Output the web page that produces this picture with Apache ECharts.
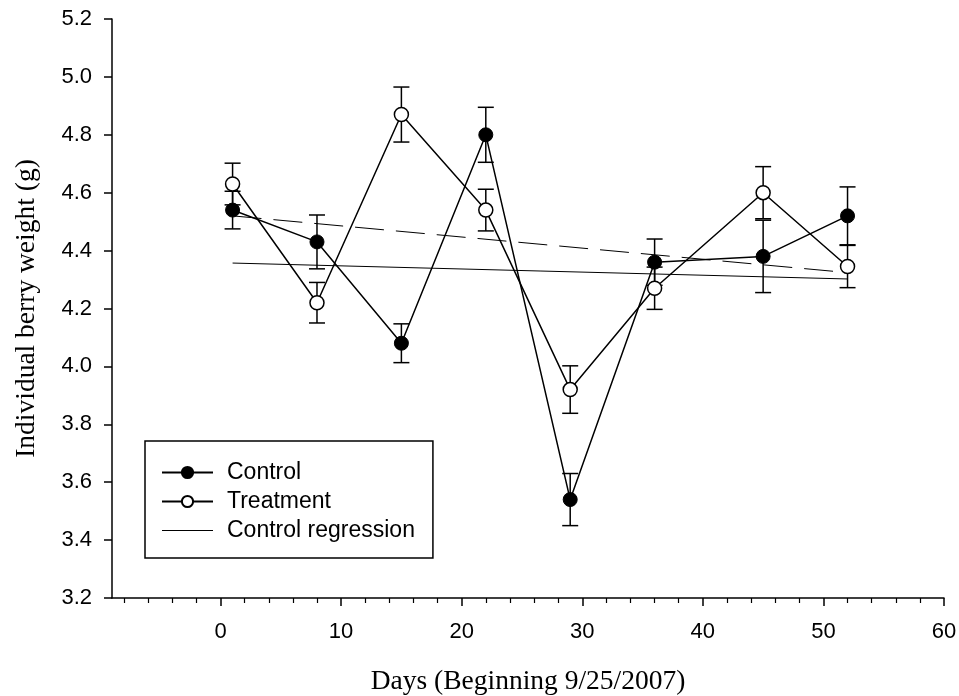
<!DOCTYPE html>
<html>
<head>
<meta charset="utf-8">
<title>Individual berry weight</title>
<script src="https://cdn.jsdelivr.net/npm/echarts@6/dist/echarts.min.js"></script>
<style>
  html, body { margin: 0; padding: 0; background: #fff; }
  #chart { width: 959px; height: 696px; }
</style>
</head>
<body>
<div id="chart"></div>
<script type="text/javascript">
// data
var days = [1, 8, 15, 22, 29, 36, 45, 52];
var controlMean = [4.54, 4.43, 4.08, 4.80, 3.54, 4.36, 4.38, 4.52];
var controlErr = [0.065, 0.093, 0.067, 0.095, 0.09, 0.08, 0.125, 0.10];
var treatMean = [4.63, 4.22, 4.87, 4.54, 3.92, 4.27, 4.60, 4.345];
var treatErr = [0.072, 0.07, 0.095, 0.072, 0.082, 0.073, 0.09, 0.073];

// regression lines (ends)
var regDays = [1, 52];
var controlReg = [4.357, 4.302];
var treatReg = [4.520, 4.324];

// ticks
var xMajorTicks = [0, 10, 20, 30, 40, 50, 60];
var xMinorTicks = [-8, -6, -4, -2, 2, 4, 6, 8, 12, 14, 16, 18, 22, 24, 26, 28,
                   32, 34, 36, 38, 42, 44, 46, 48, 52, 54, 56, 58];

var sans = 'Liberation Sans, Arial, sans-serif';
var serif = 'Liberation Serif, Times New Roman, serif';

function pairs(xs, ys) {
    return xs.map(function (x, i) { return [x, ys[i]]; });
}
function triples(xs, ys, es) {
    return xs.map(function (x, i) { return [x, ys[i], es[i]]; });
}

// error bars with caps
function errorBar(params, api) {
    var x = api.value(0), y = api.value(1), e = api.value(2);
    var top = api.coord([x, y + e]);
    var bot = api.coord([x, y - e]);
    var w = 8;
    var st = { stroke: '#000', lineWidth: 1.5 };
    return {
        type: 'group',
        children: [
            { type: 'line', shape: { x1: top[0], y1: top[1], x2: bot[0], y2: bot[1] }, style: st },
            { type: 'line', shape: { x1: top[0] - w, y1: top[1], x2: top[0] + w, y2: top[1] }, style: st },
            { type: 'line', shape: { x1: bot[0] - w, y1: bot[1], x2: bot[0] + w, y2: bot[1] }, style: st }
        ]
    };
}

var chart = echarts.init(document.getElementById('chart'));

var option = {
    animation: false,
    backgroundColor: '#fff',
    grid: { left: 112, top: 19, right: 15, bottom: 98, outerBoundsMode: 'none', containLabel: false },
    legend: {
        data: [
            'Control',
            'Treatment',
            { name: 'Control regression', icon: 'path://M0,0h51v1h-51z', itemStyle: { color: '#000' } }
        ],
        orient: 'vertical',
        left: 145,
        top: 441,
        itemWidth: 51,
        itemHeight: 14,
        itemGap: 6,
        padding: [20, 18, 16, 16],
        borderColor: '#000',
        borderWidth: 1.5,
        textStyle: { color: '#000', fontSize: 23, fontFamily: sans, padding: [0, 0, 0, 9] },
        inactiveColor: '#000'
    },
    xAxis: [{
        type: 'value',
        min: -9,
        max: 60,
        name: 'Days (Beginning 9/25/2007)',
        nameLocation: 'middle',
        nameGap: 70,
        nameTextStyle: { color: '#000', fontSize: 27.5, fontFamily: serif },
        axisLine: { onZero: false, lineStyle: { color: '#000', width: 1.5 } },
        axisTick: { customValues: xMajorTicks, length: 8, lineStyle: { color: '#000', width: 1.5 } },
        axisLabel: { customValues: xMajorTicks, margin: 23, color: '#000', fontSize: 22, fontFamily: sans },
        splitLine: { show: false }
    }, {
        type: 'value',
        position: 'bottom',
        min: -9,
        max: 60,
        axisLine: { show: false },
        axisTick: { customValues: xMinorTicks, length: 5, lineStyle: { color: '#000', width: 1.2 } },
        axisLabel: { show: false },
        splitLine: { show: false }
    }],
    yAxis: {
        type: 'value',
        min: 3.2,
        max: 5.2,
        interval: 0.2,
        name: 'Individual berry weight (g)',
        nameLocation: 'middle',
        nameGap: 71,
        nameTextStyle: { color: '#000', fontSize: 27.5, fontFamily: serif },
        axisLine: { show: true, onZero: false, lineStyle: { color: '#000', width: 1.5 } },
        axisTick: { show: true, length: 8, lineStyle: { color: '#000', width: 1.5 } },
        axisLabel: {
            margin: 20, color: '#000', fontSize: 22, fontFamily: sans,
            formatter: function (v) { return v.toFixed(1); }
        },
        splitLine: { show: false }
    },
    series: [
        {
            name: 'Control regression',
            type: 'line',
            data: pairs(regDays, controlReg),
            symbol: 'none',
            lineStyle: { color: '#000', width: 1 },
            itemStyle: { color: '#000' },
            z: 1
        },
        {
            name: 'Treatment regression',
            type: 'line',
            data: pairs(regDays, treatReg),
            symbol: 'none',
            lineStyle: { color: '#000', width: 1, type: [29, 12] },
            z: 1
        },
        {
            name: 'Control err',
            type: 'custom',
            renderItem: errorBar,
            data: triples(days, controlMean, controlErr),
            z: 2
        },
        {
            name: 'Treatment err',
            type: 'custom',
            renderItem: errorBar,
            data: triples(days, treatMean, treatErr),
            z: 2
        },
        {
            name: 'Control',
            type: 'line',
            data: pairs(days, controlMean),
            symbol: 'circle',
            symbolSize: 14,
            showAllSymbol: true,
            lineStyle: { color: '#000', width: 1.5 },
            itemStyle: { color: '#000', borderColor: '#000', borderWidth: 1 },
            z: 3
        },
        {
            name: 'Treatment',
            type: 'line',
            data: pairs(days, treatMean),
            symbol: 'circle',
            symbolSize: 14,
            showAllSymbol: true,
            lineStyle: { color: '#000', width: 1.5 },
            itemStyle: { color: '#fff', borderColor: '#000', borderWidth: 1.5 },
            z: 3
        }
    ]
};

chart.setOption(option);
</script>
</body>
</html>
